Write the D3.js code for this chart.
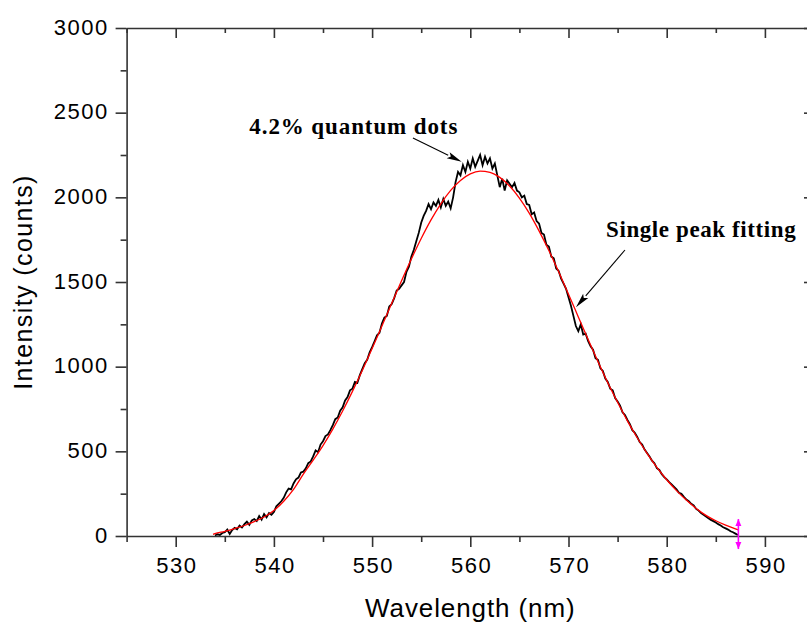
<!DOCTYPE html>
<html><head><meta charset="utf-8">
<script src="https://cdn.jsdelivr.net/npm/d3@7"></script>
<style>body{margin:0;background:#fff;} svg{display:block;background:#fff}</style>
</head><body><svg id="c" width="807" height="623"></svg>
<script>
// ---------- data ----------
const xMajorTicks = [530, 540, 550, 560, 570, 580, 590];
const xMinorTicks = [525, 535, 545, 555, 565, 575, 585, 595];
const yMajorTicks = [0, 500, 1000, 1500, 2000, 2500, 3000];
const yMinorTicks = [250, 750, 1250, 1750, 2250, 2750];

const spectrumWavelength = [
534,534.25,534.5,534.75, 535,535.25,535.5,535.75, 536,536.25,536.5,536.75,
537,537.25,537.5,537.75, 538,538.25,538.5,538.75, 539,539.25,539.5,539.75,
540,540.25,540.5,540.75, 541,541.25,541.5,541.75, 542,542.25,542.5,542.75,
543,543.25,543.5,543.75, 544,544.25,544.5,544.75, 545,545.25,545.5,545.75,
546,546.25,546.5,546.75, 547,547.25,547.5,547.75, 548,548.25,548.5,548.75,
549,549.25,549.5,549.75, 550,550.25,550.5,550.75, 551,551.25,551.5,551.75,
552,552.25,552.5,552.75, 553,553.25,553.5,553.75, 554,554.25,554.5,554.75,
555,555.25,555.5,555.75, 556,556.25,556.5,556.75, 557,557.25,557.5,557.75,
558,558.25,558.5,558.75, 559,559.25,559.5,559.75, 560,560.25,560.5,560.75,
561,561.25,561.5,561.75, 562,562.25,562.5,562.75, 563,563.25,563.5,563.75,
564,564.25,564.5,564.75, 565,565.25,565.5,565.75, 566,566.25,566.5,566.75,
567,567.25,567.5,567.75, 568,568.25,568.5,568.75, 569,569.25,569.5,569.75,
570,570.25,570.5,570.75, 571,571.25,571.5,571.75, 572,572.25,572.5,572.75,
573,573.25,573.5,573.75, 574,574.25,574.5,574.75, 575,575.25,575.5,575.75,
576,576.25,576.5,576.75, 577,577.25,577.5,577.75, 578,578.25,578.5,578.75,
579,579.25,579.5,579.75, 580,580.25,580.5,580.75, 581,581.25,581.5,581.75,
582,582.25,582.5,582.75, 583,583.25,583.5,583.75, 584,584.25,584.5,584.75,
585,585.25,585.5,585.75, 586,586.25,586.5,586.75, 587,587.25
];
const spectrumIntensity = [
3,10,6,18, 22,38,12,35, 48,40,62,50,
70,85,66,92, 100,88,118,97, 130,110,136,125,
142,175,190,205, 225,258,280,275, 310,335,345,375,
380,400,430,440, 470,505,495,540, 560,590,600,625,
655,690,700,740, 760,800,820,860, 870,910,905,950,
985,1020,1040,1085, 1115,1150,1185,1200, 1255,1290,1300,1355,
1370,1405,1450,1460, 1480,1500,1560,1590, 1650,1690,1740,1790,
1850,1890,1920,1960, 1930,1970,1950,1985, 1940,1990,1950,1975,
1935,2000,2090,2150, 2130,2190,2150,2210, 2170,2230,2180,2215,
2250,2190,2240,2200, 2230,2170,2200,2130, 2060,2110,2040,2100,
2080,2060,2085,2040, 2030,2000,2010,1960, 1955,1900,1910,1860,
1845,1790,1780,1720, 1710,1650,1640,1580, 1565,1520,1490,1460,
1410,1360,1300,1240, 1210,1250,1190,1195, 1150,1120,1100,1050,
1040,990,975,930, 910,870,860,815, 795,770,730,715,
685,660,625,610, 585,555,540,510, 490,470,445,430,
400,390,365,348, 335,318,305,290, 275,255,250,232,
215,205,190,180, 160,150,135,125, 115,105,95,88,
80,70,62,52, 45,38,28,22, 14,6
];

const fitWavelength = [533.8,534,535,536,537,538,539,540,541,542,543,544,545,546,547,548,549,550,
551,552,553,554,555,556,557,558,559,560,561,562,563,564,565,566,567,568,569,570,
571,572,573,574,575,576,577,578,579,580,581,582,583,584,585,586,587,587.3];
const fitIntensity = [10,14,28,44,62,85,112,150,205,275,365,448,534,631,738,854,977,1107,
1240,1374,1508,1636,1757,1867,1962,2041,2100,2139,2155,2148,2118,2067,1996,1907,1802,1686,1560,1428,
1294,1160,1030,905,790,680,580,488,405,332,268,212,163,122,90,64,42,36];

const annotationTexts = ["4.2% quantum dots", "Single peak fitting"];
const annotationTextAt = [[537.5, 2372], [573.82, 1768]];
const annotationArrowFrom = [[554.16, 2350], [575.75, 1689]];
const annotationArrowTo = [[559.12, 2210], [570.76, 1351]];
const markerWavelength = 587.3;
const markerRange = [-77, 100];

// ---------- chart ----------
const svg = d3.select('#c');
const x = d3.scaleLinear().domain([525, 595]).range([126.6, 814]);
const y = d3.scaleLinear().domain([0, 3000]).range([536, 28]);
const axisColor = '#333';
const sansFont = '"Liberation Sans", Arial, sans-serif';
const serifFont = '"Liberation Serif", "Times New Roman", serif';

function styleAxis(g) {
  g.selectAll('path.domain').attr('stroke', axisColor).attr('stroke-width', 1.6);
  g.selectAll('.tick line').attr('stroke', axisColor).attr('stroke-width', 1.6);
  g.selectAll('.tick text').attr('fill', '#000').attr('font-family', sansFont)
    .attr('font-size', 22).attr('letter-spacing', '1.5px');
}

// bottom
const gB = svg.append('g').attr('transform', `translate(0,${y(0)})`)
  .call(d3.axisBottom(x).tickValues(xMajorTicks).tickSize(11).tickSizeOuter(0).tickFormat(d3.format('d')));
styleAxis(gB);
gB.selectAll('.tick text').attr('y', 36.7).attr('dy', 0).attr('dx', '0.75px');
const gBm = svg.append('g').attr('transform', `translate(0,${y(0)})`)
  .call(d3.axisBottom(x).tickValues(xMinorTicks).tickSize(6).tickFormat(''));
gBm.select('path.domain').remove(); styleAxis(gBm);

// top
const gT = svg.append('g').attr('transform', `translate(0,${y(3000)})`)
  .call(d3.axisTop(x).tickValues(xMajorTicks).tickSize(-10).tickSizeOuter(0).tickFormat(''));
styleAxis(gT);
const gTm = svg.append('g').attr('transform', `translate(0,${y(3000)})`)
  .call(d3.axisTop(x).tickValues(xMinorTicks).tickSize(-5).tickFormat(''));
gTm.select('path.domain').remove(); styleAxis(gTm);

// left
const gL = svg.append('g').attr('transform', `translate(${x(525)},0)`)
  .call(d3.axisLeft(y).tickValues(yMajorTicks).tickSize(11).tickSizeOuter(0).tickFormat(d3.format('d')));
styleAxis(gL);
gL.selectAll('.tick text').attr('x', -17.8).attr('dy', '6px');
const gLm = svg.append('g').attr('transform', `translate(${x(525)},0)`)
  .call(d3.axisLeft(y).tickValues(yMinorTicks).tickSize(6).tickFormat(''));
gLm.select('path.domain').remove(); styleAxis(gLm);

// right (falls at the clipped right edge)
const gR = svg.append('g').attr('transform', `translate(${x(595)},0)`)
  .call(d3.axisRight(y).tickValues(yMajorTicks).tickSize(-10).tickSizeOuter(0).tickFormat(''));
styleAxis(gR);

// axis titles
svg.append('text').attr('x', x(560)).attr('y', 617).attr('text-anchor', 'middle')
  .attr('font-family', sansFont).attr('font-size', 26).attr('letter-spacing', '0.9px')
  .attr('fill', '#000').text('Wavelength (nm)');
svg.append('text').attr('transform', `translate(32.3,${y(1500)}) rotate(-90)`)
  .attr('text-anchor', 'middle').attr('font-family', sansFont).attr('font-size', 25)
  .attr('letter-spacing', '1.4px').attr('fill', '#000').text('Intensity (counts)');

// curves
const fitData = fitWavelength.map((w, i) => [w, fitIntensity[i]]);
const specData = spectrumWavelength.map((w, i) => [w, spectrumIntensity[i]]);

svg.append('path').datum(specData)
  .attr('d', d3.line().x(d => x(d[0])).y(d => y(d[1])))
  .attr('fill', 'none').attr('stroke', '#000').attr('stroke-width', 1.8).attr('stroke-linejoin', 'miter');

svg.append('path').datum(fitData)
  .attr('d', d3.line().curve(d3.curveMonotoneX).x(d => x(d[0])).y(d => y(d[1])))
  .attr('fill', 'none').attr('stroke', '#ff0000').attr('stroke-width', 1.3);

// annotations
annotationTexts.forEach((t, i) => {
  svg.append('text').attr('x', x(annotationTextAt[i][0])).attr('y', y(annotationTextAt[i][1]))
    .attr('font-family', serifFont).attr('font-weight', 'bold').attr('font-size', 23)
    .attr('letter-spacing', i === 0 ? '0.9px' : '0.6px').attr('fill', '#000').text(t);
  const x0 = x(annotationArrowFrom[i][0]), y0 = y(annotationArrowFrom[i][1]);
  const x1 = x(annotationArrowTo[i][0]), y1 = y(annotationArrowTo[i][1]);
  const dx = x1 - x0, dy = y1 - y0, L = Math.hypot(dx, dy);
  const ux = dx / L, uy = dy / L, hl = 15, hw = 3.4;
  const bx = x1 - ux * hl, by = y1 - uy * hl;
  svg.append('line').attr('x1', x0).attr('y1', y0).attr('x2', bx).attr('y2', by)
    .attr('stroke', '#000').attr('stroke-width', 1.1);
  svg.append('polygon').attr('points', [[x1, y1], [bx - uy * hw, by + ux * hw], [bx + ux * 3, by + uy * 3], [bx + uy * hw, by - ux * hw]].map(p => p.join(',')).join(' '))
    .attr('fill', '#000');
});

// magenta end marker
const mx = x(markerWavelength), mTop = y(markerRange[1]), mBot = y(markerRange[0]);
svg.append('line').attr('x1', mx).attr('x2', mx).attr('y1', mTop).attr('y2', mBot)
  .attr('stroke', '#ff00ff').attr('stroke-width', 1.6);
svg.append('polygon').attr('points', `${mx},${mTop} ${mx - 3},${mTop + 7} ${mx + 3},${mTop + 7}`).attr('fill', '#ff00ff');
svg.append('polygon').attr('points', `${mx},${mBot} ${mx - 3},${mBot - 7} ${mx + 3},${mBot - 7}`).attr('fill', '#ff00ff');
</script></body></html>
